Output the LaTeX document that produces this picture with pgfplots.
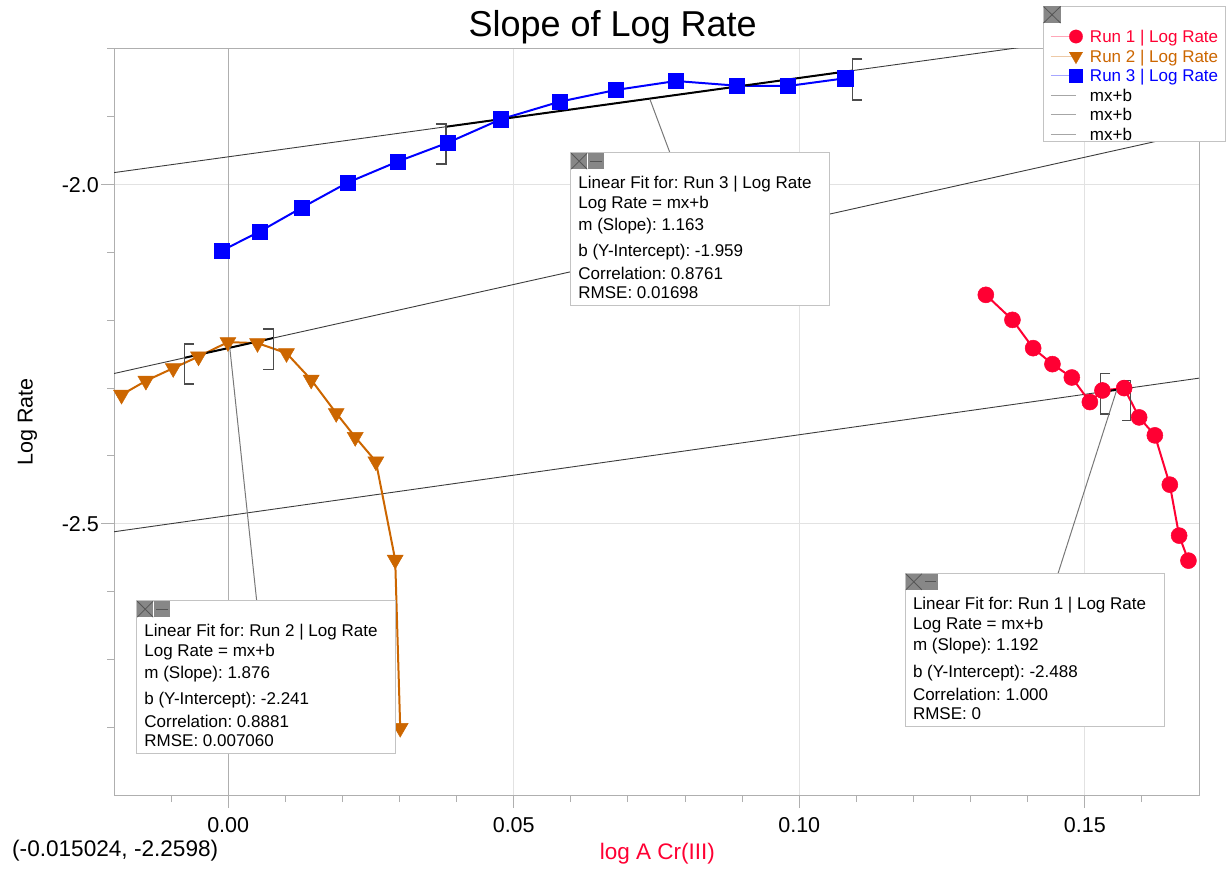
\documentclass[border=0pt]{standalone}
\usepackage{pgfplots}
\pgfplotsset{compat=1.18}
\usepackage{pgfplotstable}
\usepackage{fontspec}
\setmainfont{Liberation Sans}
\frenchspacing
\definecolor{cR}{RGB}{255,0,51}
\definecolor{cO}{RGB}{204,102,0}
\definecolor{cB}{RGB}{0,0,255}
\definecolor{gridc}{RGB}{226,226,226}
\definecolor{axc}{RGB}{175,175,175}
\definecolor{fitc}{RGB}{60,60,60}
\definecolor{boxc}{RGB}{195,195,195}
\definecolor{iconc}{RGB}{135,135,135}
\definecolor{icond}{RGB}{85,85,85}
\definecolor{leadc}{RGB}{120,120,120}

\pgfplotstableread{
x y
0.13267 -2.1625
0.13733 -2.1994
0.14096 -2.2411
0.14434 -2.2647
0.14773 -2.2844
0.15089 -2.3206
0.15309 -2.3035
0.15689 -2.3000
0.15952 -2.3432
0.16227 -2.3697
0.16489 -2.4424
0.16652 -2.5175
0.16815 -2.5544
}\runone
\pgfplotstableread{
x y
-0.01868 -2.3099
-0.01441 -2.2893
-0.00963 -2.2706
-0.00520 -2.2535
-0.00005 -2.2322
0.00513 -2.2337
0.01021 -2.2485
0.01453 -2.2877
0.01891 -2.3369
0.02224 -2.3722
0.02586 -2.4082
0.02924 -2.5531
0.03012 -2.8011
}\runtwo
\pgfplotstableread{
x y
-0.00110 -2.0973
0.00548 -2.0693
0.01290 -2.0339
0.02089 -1.9971
0.02964 -1.9661
0.03847 -1.9381
0.04775 -1.9036
0.05805 -1.8777
0.06789 -1.8604
0.07839 -1.8472
0.08907 -1.8541
0.09800 -1.8546
0.10803 -1.8432
}\runthree

\newcommand{\boxfont}{\fontsize{17}{20}\selectfont}
\newcommand{\lrow}[1]{\raisebox{0pt}[14pt][2.6pt]{#1}}
\newcommand{\lrowfirst}[1]{\raisebox{0pt}[36pt][2.6pt]{#1}}
% #1 left, #2 top (pixels), #3 run, #4 slope, #5 intercept, #6 correlation, #7 rmse
\newcommand{\fitbox}[7]{%
  \draw[fill=white, draw=boxc, line width=1pt] (#1,#2) rectangle ++(259,153);
  \fill[iconc] (#1+0.5,#2+0.5) rectangle ++(16,16);
  \fill[iconc] (#1+17,#2+0.5) rectangle ++(16,16);
  \draw[icond, line width=0.8pt] (#1+0.5,#2+0.5) -- ++(16,16) (#1+16.5,#2+0.5) -- ++(-16,16);
  \draw[icond, line width=1.2pt] (#1+19.5,#2+8.5) -- ++(11.5,0);
  \node[anchor=base west, inner sep=0pt, font=\boxfont] at (#1+7.5,#2+36) {Linear Fit for: Run #3 | Log Rate};
  \node[anchor=base west, inner sep=0pt, font=\boxfont] at (#1+7.5,#2+56) {Log Rate = mx+b};
  \node[anchor=base west, inner sep=0pt, font=\boxfont] at (#1+7.5,#2+77.5) {m (Slope): #4};
  \node[anchor=base west, inner sep=0pt, font=\boxfont] at (#1+7.5,#2+103.7) {b (Y-Intercept): #5};
  \node[anchor=base west, inner sep=0pt, font=\boxfont] at (#1+7.5,#2+127.2) {Correlation: #6};
  \node[anchor=base west, inner sep=0pt, font=\boxfont] at (#1+7.5,#2+146) {RMSE: #7};
}

\begin{document}
\begin{tikzpicture}
\path[use as bounding box] (0pt,0pt) rectangle (1231pt,871pt);
\begin{axis}[
  at={(114pt,76pt)}, anchor=south west,
  width=1085pt, height=746pt, scale only axis,
  xmin=-0.02, xmax=0.17, ymin=-2.9, ymax=-1.8,
  /pgf/number format/assume math mode=true,
  xtick={0.05,0.1,0.15}, xticklabels={0.05,0.10,0.15},
  extra x ticks={0}, extra x tick labels={0.00},
  extra x tick style={major grid style={draw=axc, line width=1.4pt}},
  ytick={-2.5,-2.0}, yticklabels={-2.5,-2.0},
  minor xtick={-0.01,0.01,0.02,0.03,0.04,0.06,0.07,0.08,0.09,0.11,0.12,0.13,0.14,0.16},
  minor ytick={-2.8,-2.7,-2.6,-2.4,-2.3,-2.2,-2.1,-1.9,-1.8},
  tick pos=left, tick align=outside,
  major tick length=13pt, minor tick length=7pt,
  every tick/.style={draw=axc, line width=1pt},
  grid=major, major grid style={draw=gridc, line width=1pt},
  axis line style={draw=axc, line width=1pt},
  ticklabel style={font=\fontsize{21.5}{24}\selectfont},
  xticklabel style={inner ysep=9.5pt},
  yticklabel style={inner xsep=2pt},
  title={Slope of Log Rate},
  every axis title/.style={at={(axis description cs:0.4596,1.0165)}, anchor=base, font=\fontsize{36}{40}\selectfont, inner sep=0pt},
  xlabel={log A Cr(III)},
  every axis x label/.style={at={(axis description cs:0.5009,-0.0871)}, anchor=base, font=\fontsize{22.5}{26}\selectfont, text=cR, inner sep=0pt},
  ylabel={Log Rate},
  every axis y label/.style={at={(axis description cs:-0.0751,0.5)}, rotate=90, anchor=base, font=\fontsize{21.5}{24}\selectfont, inner sep=0pt},
  legend cell align=left,
  legend style={at={(axis description cs:0.8562,1.0576)}, anchor=north west,
    draw=boxc, fill=white, line width=1pt, inner xsep=7pt, inner ysep=0pt,
    row sep=4pt, column sep=7.3pt, font=\boxfont,
    cells={anchor=base west},
    nodes={inner xsep=0pt, inner ysep=0pt}},
]
\addlegendimage{legend image code/.code={
  \draw[cR!35, line width=1pt] (0pt,6pt) -- (25pt,6pt);
  \draw[draw=cR, fill=cR, mark=*, mark size=6.7pt, mark options={line width=0.3pt}] plot coordinates {(25pt,6pt)};}}
\addlegendentry[text=cR]{\lrowfirst{Run 1 | Log Rate}}
\addlegendimage{legend image code/.code={
  \draw[cO!35, line width=1pt] (0pt,6pt) -- (25pt,6pt);
  \draw[draw=cO, fill=cO, mark=triangle*, mark size=7.7pt, mark options={rotate=180, line width=0.3pt}] plot coordinates {(25pt,6pt)};}}
\addlegendentry[text=cO]{\lrow{Run 2 | Log Rate}}
\addlegendimage{legend image code/.code={
  \draw[cB!35, line width=1pt] (0pt,6pt) -- (25pt,6pt);
  \draw[draw=cB, fill=cB, mark=square*, mark size=6.5pt, mark options={line width=0.3pt}] plot coordinates {(25pt,6pt)};}}
\addlegendentry[text=cB]{\lrow{Run 3 | Log Rate}}
\addlegendimage{legend image code/.code={\draw[gray!70, line width=1pt] (0pt,6pt) -- (25pt,6pt);}}
\addlegendentry{\lrow{mx+b}}
\addlegendimage{legend image code/.code={\draw[gray!70, line width=1pt] (0pt,6pt) -- (25pt,6pt);}}
\addlegendentry{\lrow{mx+b}}
\addlegendimage{legend image code/.code={\draw[gray!70, line width=1pt] (0pt,6pt) -- (25pt,6pt);}}
\addlegendentry{\lrow{mx+b}}

% full-range fit lines
\addplot[forget plot, fitc, line width=0.9pt] coordinates {(-0.02,-2.51184) (0.17,-2.28536)};
\addplot[forget plot, fitc, line width=0.9pt] coordinates {(-0.02,-2.27852) (0.17,-1.92208)};
\addplot[forget plot, fitc, line width=0.9pt] coordinates {(-0.02,-1.98226) (0.17,-1.76129)};

% data
\addplot[forget plot, cR, line width=2pt, mark=*, mark size=8pt, mark options={fill=cR, line width=0.5pt}] table {\runone};
\addplot[forget plot, cO, line width=2pt, mark=triangle*, mark size=9.2pt, mark options={fill=cO, rotate=180, line width=0.5pt}] table {\runtwo};
\addplot[forget plot, cB, line width=2pt, mark=square*, mark size=7.7pt, mark options={fill=cB, line width=0.5pt}] table {\runthree};

% fitted ranges
\addplot[forget plot, black, line width=2pt] coordinates {(0.03812,-1.91467) (0.10932,-1.83186)};
\addplot[forget plot, black, line width=2pt] coordinates {(-0.00770,-2.25544) (0.00788,-2.22622)};
\addplot[forget plot, black, line width=2pt] coordinates {(0.15269,-2.30599) (0.15806,-2.29959)};

% range brackets
\addplot[forget plot, black!70, line width=1.3pt] coordinates {(0.03637,-1.91055) (0.03812,-1.91055) (0.03812,-1.96950) (0.03637,-1.96950)};
\addplot[forget plot, black!70, line width=1.3pt] coordinates {(0.11107,-1.81477) (0.10932,-1.81477) (0.10932,-1.87518) (0.11107,-1.87518)};
\addplot[forget plot, black!70, line width=1.3pt] coordinates {(-0.00595,-2.23519) (-0.00770,-2.23519) (-0.00770,-2.29414) (-0.00595,-2.29414)};
\addplot[forget plot, black!70, line width=1.3pt] coordinates {(0.00613,-2.21309) (0.00788,-2.21309) (0.00788,-2.27306) (0.00613,-2.27306)};
\addplot[forget plot, black!70, line width=1.3pt] coordinates {(0.15444,-2.27896) (0.15269,-2.27896) (0.15269,-2.33834) (0.15444,-2.33834)};
\addplot[forget plot, black!70, line width=1.3pt] coordinates {(0.15649,-2.28883) (0.15806,-2.28883) (0.15806,-2.34822) (0.15649,-2.34822)};
\end{axis}

\begin{scope}[x=1pt, y=-1pt, shift={(0pt,871pt)}]
  % legend close icon
  \fill[iconc] (1043.5,6.5) rectangle (1060.5,23);
  \draw[icond, line width=0.8pt] (1043.5,6.5) -- (1060.5,23) (1060.5,6.5) -- (1043.5,23);
  % leader lines
  \draw[leadc, line width=1pt] (670,153) -- (650,99.5);
  \draw[leadc, line width=1pt] (256.7,601) -- (229.7,347);
  \draw[leadc, line width=1pt] (1058,573.5) -- (1116.7,390);
  % fit boxes
  \fitbox{570.7}{152.7}{3}{1.163}{-1.959}{0.8761}{0.01698}
  \fitbox{136.7}{600.7}{2}{1.876}{-2.241}{0.8881}{0.007060}
  \fitbox{905.3}{573.3}{1}{1.192}{-2.488}{1.000}{0}
  % cursor readout
  \node[anchor=base west, inner sep=0pt, font=\fontsize{22.6}{26}\selectfont] at (12,856.7) {(-0.015024, -2.2598)};
\end{scope}
\end{tikzpicture}
\end{document}
